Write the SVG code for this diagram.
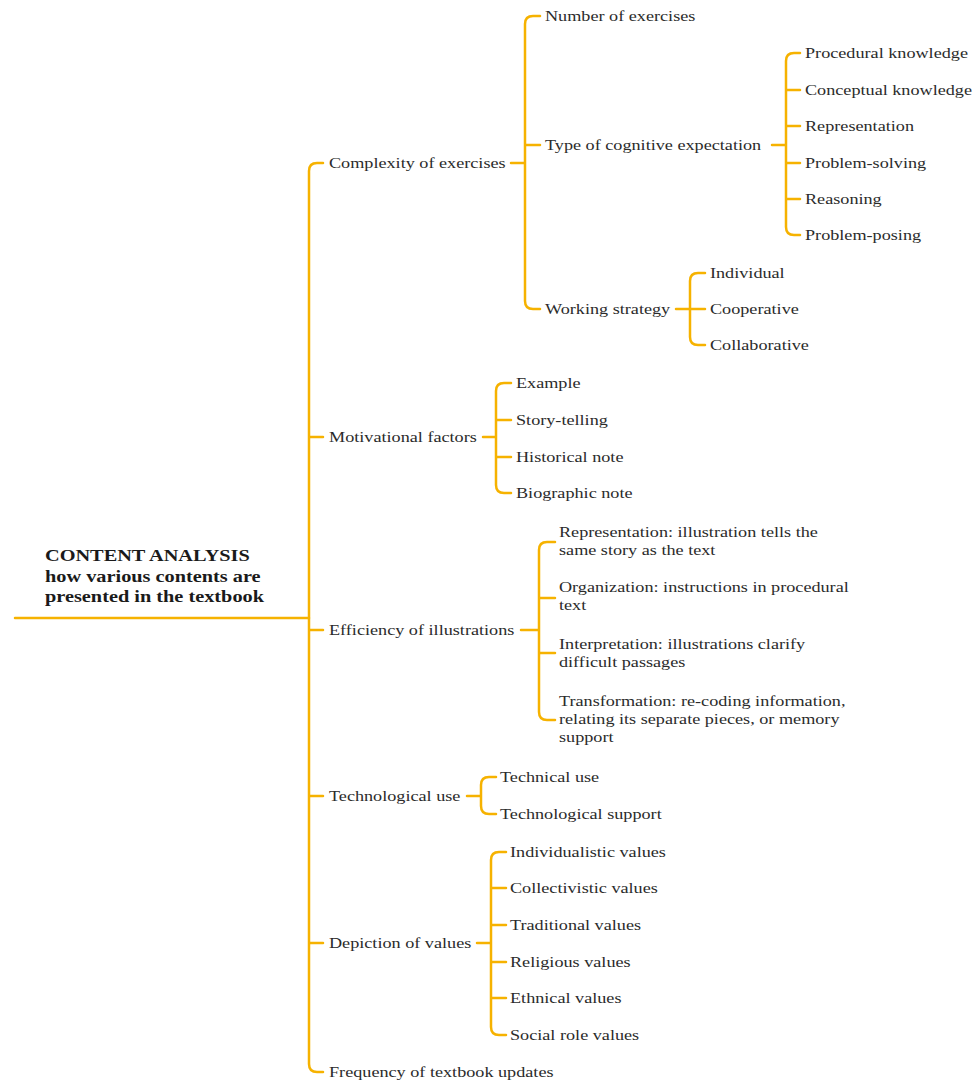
<svg xmlns="http://www.w3.org/2000/svg" width="977" height="1081" viewBox="0 0 977 1081">
<style>
.bg{fill:#ffffff}
.c{fill:none;stroke:#F6B200;stroke-width:2.5;stroke-linecap:round;stroke-linejoin:round}
.t{font-family:"Liberation Serif","Times New Roman",serif;font-size:15px;fill:#2b2b2b;transform-box:fill-box;transform-origin:0 0;transform:scaleX(1.212)}
.r{font-family:"Liberation Serif","Times New Roman",serif;font-size:17px;font-weight:bold;fill:#1a1a1a;transform-box:fill-box;transform-origin:0 0;transform:scaleX(1.195)}
</style>
<rect class="bg" x="0" y="0" width="977" height="1081"/>
<g id="connectors">
  <path class="c" d="M15,618 H309"/>
  <path class="c" d="M323,163 H317 Q309,163 309,171 V1064 Q309,1072 317,1072 H323 M309,437 H323 M309,630 H323 M309,796 H323 M309,943 H323"/>
  <path class="c" d="M511,163 H525 M540,16 H533 Q525,16 525,24 V301 Q525,309 533,309 H540 M525,145 H540"/>
  <path class="c" d="M772,145 H786 M800,53 H794 Q786,53 786,61 V227 Q786,235 794,235 H800 M786,90 H800 M786,126 H800 M786,163 H800 M786,199 H800"/>
  <path class="c" d="M676,309 H690 M705,273 H698 Q690,273 690,281 V337 Q690,345 698,345 H705 M690,309 H705"/>
  <path class="c" d="M483,437 H496 M511,383 H504 Q496,383 496,391 V485 Q496,493 504,493 H511 M496,420 H511 M496,457 H511"/>
  <path class="c" d="M521,630 H539 M555,542 H547 Q539,542 539,550 V712 Q539,720 547,720 H555 M539,598 H555 M539,653 H555"/>
  <path class="c" d="M467,796 H481 M496,777 H489 Q481,777 481,785 V806 Q481,814 489,814 H496"/>
  <path class="c" d="M477,943 H491 M506,852 H499 Q491,852 491,860 V1027 Q491,1035 499,1035 H506 M491,888 H506 M491,925 H506 M491,962 H506 M491,998 H506"/>
</g>
<g id="root">
  <text class="r" x="45" y="561">CONTENT ANALYSIS</text>
  <text class="r" x="45" y="582">how various contents are</text>
  <text class="r" x="45" y="602">presented in the textbook</text>
</g>
<g id="complexity"><text class="t" x="329" y="168">Complexity of exercises</text></g>
<g id="number-exercises"><text class="t" x="545" y="21">Number of exercises</text></g>
<g id="cognitive-expectation"><text class="t" x="545" y="150">Type of cognitive expectation</text></g>
<g id="procedural"><text class="t" x="805" y="58">Procedural knowledge</text></g>
<g id="conceptual"><text class="t" x="805" y="95">Conceptual knowledge</text></g>
<g id="representation-cog"><text class="t" x="805" y="131">Representation</text></g>
<g id="problem-solving"><text class="t" x="805" y="168">Problem-solving</text></g>
<g id="reasoning"><text class="t" x="805" y="204">Reasoning</text></g>
<g id="problem-posing"><text class="t" x="805" y="240">Problem-posing</text></g>
<g id="working-strategy"><text class="t" x="545" y="314">Working strategy</text></g>
<g id="individual"><text class="t" x="710" y="278">Individual</text></g>
<g id="cooperative"><text class="t" x="710" y="314">Cooperative</text></g>
<g id="collaborative"><text class="t" x="710" y="350">Collaborative</text></g>
<g id="motivational"><text class="t" x="329" y="442">Motivational factors</text></g>
<g id="example"><text class="t" x="516" y="388">Example</text></g>
<g id="story-telling"><text class="t" x="516" y="425">Story-telling</text></g>
<g id="historical"><text class="t" x="516" y="462">Historical note</text></g>
<g id="biographic"><text class="t" x="516" y="498">Biographic note</text></g>
<g id="efficiency"><text class="t" x="329" y="635">Efficiency of illustrations</text></g>
<g id="representation-ill">
  <text class="t" x="559" y="537">Representation: illustration tells the</text>
  <text class="t" x="559" y="555">same story as the text</text>
</g>
<g id="organization">
  <text class="t" x="559" y="592">Organization: instructions in procedural</text>
  <text class="t" x="559" y="610">text</text>
</g>
<g id="interpretation">
  <text class="t" x="559" y="649">Interpretation: illustrations clarify</text>
  <text class="t" x="559" y="667">difficult passages</text>
</g>
<g id="transformation">
  <text class="t" x="559" y="706">Transformation: re-coding information,</text>
  <text class="t" x="559" y="724">relating its separate pieces, or memory</text>
  <text class="t" x="559" y="742">support</text>
</g>
<g id="technological"><text class="t" x="329" y="801">Technological use</text></g>
<g id="technical-use"><text class="t" x="500" y="782">Technical use</text></g>
<g id="technological-support"><text class="t" x="500" y="819">Technological support</text></g>
<g id="depiction"><text class="t" x="329" y="948">Depiction of values</text></g>
<g id="individualistic"><text class="t" x="510" y="857">Individualistic values</text></g>
<g id="collectivistic"><text class="t" x="510" y="893">Collectivistic values</text></g>
<g id="traditional"><text class="t" x="510" y="930">Traditional values</text></g>
<g id="religious"><text class="t" x="510" y="967">Religious values</text></g>
<g id="ethnical"><text class="t" x="510" y="1003">Ethnical values</text></g>
<g id="social-role"><text class="t" x="510" y="1040">Social role values</text></g>
<g id="frequency"><text class="t" x="329" y="1077">Frequency of textbook updates</text></g>
</svg>
